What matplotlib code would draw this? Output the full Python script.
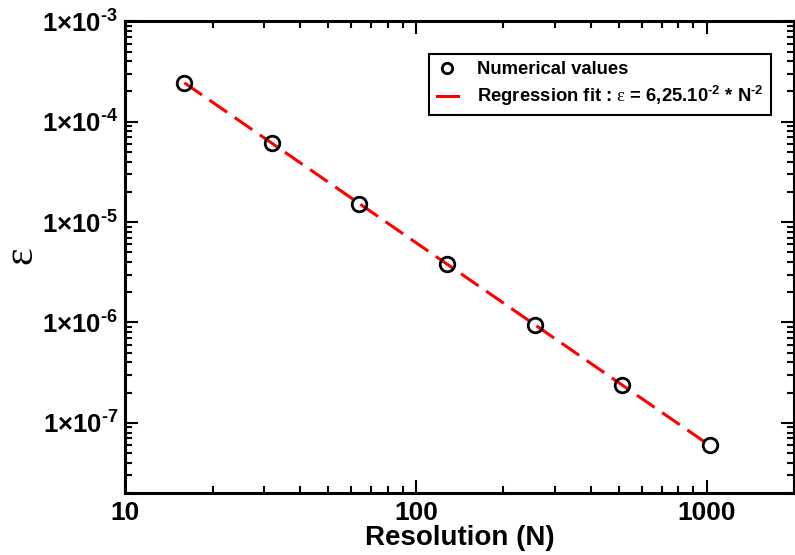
import math
import matplotlib
matplotlib.use("Agg")
import matplotlib.pyplot as plt
from matplotlib.lines import Line2D
from matplotlib.ticker import LogLocator, FuncFormatter, NullFormatter, FixedLocator

plt.rcParams['font.family'] = ['Liberation Sans', 'DejaVu Sans']
plt.rcParams['font.weight'] = 'bold'
plt.rcParams['mathtext.fontset'] = 'custom'
plt.rcParams['mathtext.rm'] = 'Liberation Sans:bold'
plt.rcParams['mathtext.it'] = 'Liberation Sans:bold'
plt.rcParams['mathtext.bf'] = 'Liberation Sans:bold'
plt.rcParams['mathtext.sf'] = 'Liberation Serif:normal'
plt.rcParams['mathtext.default'] = 'rm'

# Data
resolution = [16, 32, 64, 128, 256, 512, 1024]
epsilon = [2.44e-4, 6.1e-5, 1.53e-5, 3.8e-6, 9.5e-7, 2.38e-7, 5.96e-8]
fit_resolution = [16, 1024]
fit_epsilon = [2.44e-4, 5.96e-8]
x_ticks = [10, 100, 1000]
y_ticks = [1e-7, 1e-6, 1e-5, 1e-4, 1e-3]
legend_labels = ["Numerical values",
                 r"Regression fit : $\mathsf{ε}$ = 6,25.10$^{\text{-}2}$ * N$^{\text{-}2}$"]

fig = plt.figure(figsize=(7.95, 5.55), dpi=100)
ax = fig.add_axes([125/795, 62/555, 670/795 - 0.001, 471.7/555])

ax.plot(resolution, epsilon, linestyle='none', marker='o', markersize=10.5,
        markerfacecolor='none', markeredgecolor='black', markeredgewidth=2,
        zorder=3)
line, = ax.plot(fit_resolution, fit_epsilon, color='#ff0000', linewidth=2.2,
                zorder=2)
line.set_dashes((7, 3))

ax.set_xscale('log')
ax.set_yscale('log')
ax.set_xlim(10, 2000)
ax.set_ylim(2e-8, 1e-3)

ax.xaxis.set_major_locator(FixedLocator(x_ticks))
ax.xaxis.set_major_formatter(FuncFormatter(lambda v, p: f"{int(round(v))}"))
ax.xaxis.set_minor_locator(LogLocator(base=10, subs=range(2, 10)))
ax.xaxis.set_minor_formatter(NullFormatter())


def yfmt(v, p):
    e = int(round(math.log10(v)))
    return r"$1{\times}10^{\text{%s}}$" % str(e)


ax.yaxis.set_major_locator(FixedLocator(y_ticks))
ax.yaxis.set_major_formatter(FuncFormatter(yfmt))
ax.yaxis.set_minor_locator(LogLocator(base=10, subs=range(2, 10)))
ax.yaxis.set_minor_formatter(NullFormatter())

ax.tick_params(which='both', direction='in', top=True, right=True, width=1.5, color='black')
ax.tick_params(which='major', length=9.5)
ax.tick_params(which='minor', length=4.7)
ax.tick_params(axis='x', which='major', labelsize=19, pad=6)
ax.tick_params(axis='y', which='major', labelsize=18.5, pad=5)

for s in ax.spines.values():
    s.set_linewidth(2.2)
    s.set_color('black')

ax.set_xlabel("Resolution (N)", fontsize=20, fontweight='bold', labelpad=0)
ax.set_ylabel(r"$\mathsf{ε}$", fontsize=30, fontweight='normal')
ax.yaxis.set_label_coords(-0.1245, 0.5)

handles = [
    Line2D([], [], linestyle='none', marker='o', markersize=7.5,
           markerfacecolor='none', markeredgecolor='black', markeredgewidth=2),
    Line2D([], [], color='#ff0000', linewidth=2.2, linestyle='-'),
]
leg = ax.legend(handles, legend_labels, loc='upper right',
                bbox_to_anchor=(0.9657, 0.9307), borderaxespad=0,
                fontsize=13.3, frameon=True, fancybox=False, shadow=False,
                handlelength=1.15, handletextpad=1.05, labelspacing=0.3,
                borderpad=0.4)
leg.get_frame().set_edgecolor('black')
leg.get_frame().set_linewidth(1.5)
leg.get_frame().set_alpha(1)
for t in leg.get_texts():
    t.set_fontweight('bold')

fig.savefig("out.png", dpi=100)
